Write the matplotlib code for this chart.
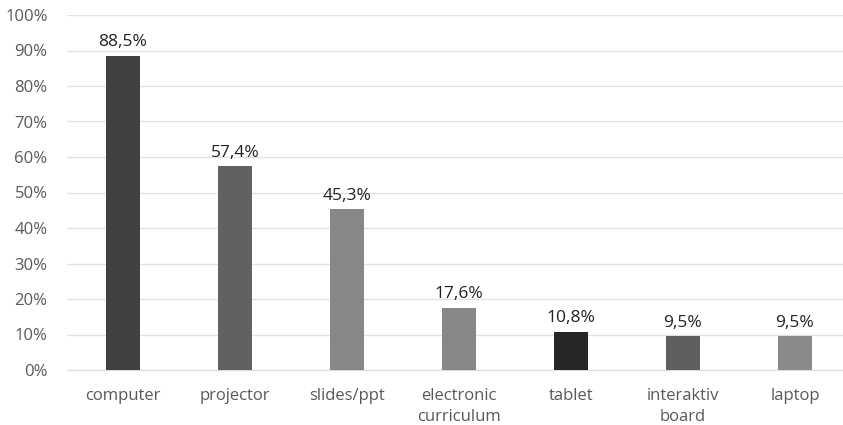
import matplotlib
matplotlib.use("Agg")
import matplotlib.pyplot as plt
import matplotlib.ticker as ticker

categories = ["computer", "projector", "slides/ppt", "electronic\ncurriculum",
              "tablet", "interaktiv\nboard", "laptop"]
values = [88.5, 57.4, 45.3, 17.6, 10.8, 9.5, 9.5]
colors = ["#404040", "#616161", "#878787", "#878787", "#262626", "#5f5f5f", "#8a8a8a"]


def main():
    plt.rcParams["font.family"] = ["Open Sans", "DejaVu Sans"]

    fig = plt.figure(figsize=(8.43, 4.25), dpi=100)
    ax = fig.add_axes([67 / 843, 1 - 370 / 425, 784 / 843, 355 / 425])

    x = range(len(categories))
    bars = ax.bar(x, values, width=0.31, color=colors, zorder=3)

    for bar, v in zip(bars, values):
        ax.text(bar.get_x() + bar.get_width() / 2, v + 1.6,
                f"{v:.1f}%".replace(".", ","),
                ha="center", va="bottom", fontsize=12.5, color="#222222")

    ax.set_xlim(-0.5, len(categories) - 0.5)
    ax.set_ylim(0, 100)
    ax.yaxis.set_major_locator(ticker.MultipleLocator(10))
    ax.yaxis.set_major_formatter(ticker.FuncFormatter(lambda v, pos: f"{int(v)}%"))
    ax.set_xticks(list(x))
    ax.set_xticklabels(categories, fontsize=12, color="#595959", linespacing=1.4)
    ax.tick_params(axis="y", labelsize=12, labelcolor="#595959", length=0, pad=14)
    ax.tick_params(axis="x", length=0, pad=13)

    ax.grid(axis="y", color="#e3e3e3", linewidth=1, zorder=0)
    for side in ["top", "right", "left"]:
        ax.spines[side].set_visible(False)
    ax.spines["bottom"].set_color("#dcdcdc")

    fig.savefig("out.png", dpi=100)


if __name__ == '__main__':
    main()
